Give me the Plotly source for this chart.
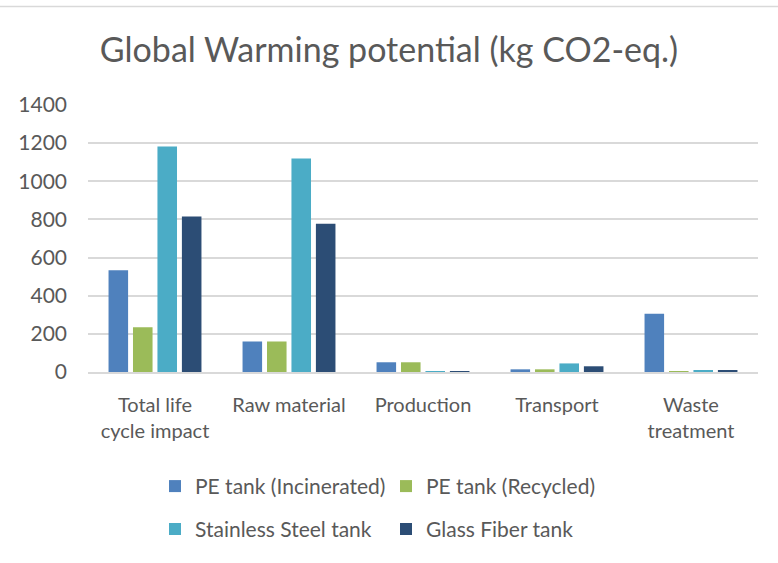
import plotly.graph_objects as go

categories = ["Total life<br>cycle impact", "Raw material", "Production", "Transport", "Waste<br>treatment"]
series_names = ["PE tank (Incinerated)", "PE tank (Recycled)", "Stainless Steel tank", "Glass Fiber tank"]
pe_incinerated = [534, 160, 51, 14, 305]
pe_recycled = [235, 160, 51, 14, 1]
stainless_steel = [1182, 1120, 2, 45, 9]
glass_fiber = [816, 777, 1, 30, 9]
y_ticks = [0, 200, 400, 600, 800, 1000, 1200, 1400]

colors = ["#4F81BD", "#9BBB59", "#4BACC6", "#2C4D75"]
values = [pe_incinerated, pe_recycled, stainless_steel, glass_fiber]
legend_ids = ["legend", "legend", "legend2", "legend2"]

FONT = "Lato"
TXT = "#595959"

fig = go.Figure()
for name, vals, c, lg in zip(series_names, values, colors, legend_ids):
    fig.add_trace(go.Bar(x=categories, y=vals, name=name, legend=lg,
                         marker=dict(color=c, line=dict(width=0))))

leg_common = dict(orientation="h", x=0.1, xanchor="left", yanchor="middle",
                  entrywidth=186, entrywidthmode="pixels", font=dict(size=21, color=TXT),
                  traceorder="normal", itemwidth=30, bgcolor="rgba(0,0,0,0)")

fig.update_layout(
    width=778, height=563,
    margin=dict(l=88, r=20, t=105, b=191),
    paper_bgcolor="white", plot_bgcolor="white",
    barmode="group", bargap=0.27, bargroupgap=0.2,
    font=dict(family=FONT, color=TXT, size=20),
    title=dict(text="Global Warming potential (kg CO2-eq.)", x=0.5, xanchor="center",
               y=1 - 50 / 563, yanchor="middle", font=dict(size=34, color=TXT, family=FONT)),
    xaxis=dict(showgrid=False, showline=True, linecolor="#D9D9D9", linewidth=1.5,
               tickfont=dict(size=20, color=TXT), ticks="", ticklabelstandoff=14),
    yaxis=dict(range=[0, 1400], tickvals=y_ticks, showgrid=True, gridcolor="#D9D9D9", gridwidth=1.5,
               zeroline=False, showline=False, tickfont=dict(size=21, color=TXT), ticks="",
               ticklabelstandoff=20),
    legend=dict(y=(372.3 - 487) / 267.6, **leg_common),
    legend2=dict(y=(372.3 - 530) / 267.6, **leg_common),
    showlegend=True,
)
fig.add_shape(type="line", xref="paper", yref="paper", x0=-88 / 670, x1=1 + 20 / 670,
              y0=(372.3 - 6) / 267.6, y1=(372.3 - 6) / 267.6, line=dict(color="#D9D9D9", width=1.5))

fig.write_html("out.html")
